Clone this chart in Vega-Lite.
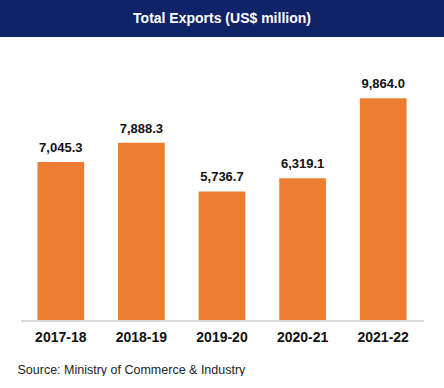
{
  "$schema": "https://vega.github.io/schema/vega-lite/v6.json",
  "padding": 0,
  "spacing": 13,
  "background": "white",
  "config": {"font": "Liberation Sans"},
  "vconcat": [
    {
      "width": 444,
      "height": 37,
      "view": {"fill": "#0F2468", "stroke": null},
      "data": {"values": [{"label": "Total Exports (US$ million)"}]},
      "mark": {"type": "text", "color": "white", "fontSize": 14, "fontWeight": "bold", "font": "Liberation Sans", "baseline": "middle"},
      "encoding": {"text": {"field": "label"}}
    },
    {
      "width": 444,
      "height": 271,
      "view": {"stroke": null},
      "data": {"values": [
        {"year": "2017-18", "value": 7045.3},
        {"year": "2018-19", "value": 7888.3},
        {"year": "2019-20", "value": 5736.7},
        {"year": "2020-21", "value": 6319.1},
        {"year": "2021-22", "value": 9864.0}
      ]},
      "encoding": {
        "x": {
          "field": "year", "type": "nominal", "sort": null,
          "scale": {"paddingInner": 0.4206, "paddingOuter": 0.4647},
          "axis": {
            "title": "Source: Ministry of Commerce & Industry",
            "titleFont": "Liberation Sans", "titleFontSize": 12.5, "titleFontWeight": "normal",
            "titleColor": "#222", "titleAnchor": "start", "titleAlign": "left", "titleX": 17,
            "titlePadding": 19,
            "labelAngle": 0, "labelFont": "Liberation Sans", "labelFontSize": 14, "labelFontWeight": "bold",
            "labelColor": "#111", "labelPadding": 9, "ticks": false,
            "domain": false, "grid": false
          }
        },
        "y": {
          "field": "value", "type": "quantitative",
          "scale": {"domain": [0, 12000], "nice": false},
          "axis": null
        }
      },
      "layer": [
        {"mark": {"type": "bar", "color": "#ED7D31"}},
        {
          "mark": {"type": "text", "baseline": "bottom", "dy": -7, "fontSize": 13, "fontWeight": "bold", "color": "#111", "font": "Liberation Sans"},
          "encoding": {"text": {"field": "value", "type": "quantitative", "format": ",.1f"}}
        },
        {
          "mark": {"type": "rule", "color": "#d9d9d9", "strokeWidth": 1.5},
          "encoding": {
            "x": {"datum": "2017-18", "bandPosition": -0.352},
            "x2": {"datum": "2021-22", "bandPosition": 1.374},
            "y": {"datum": 0}
          }
        }
      ]
    }
  ]
}
